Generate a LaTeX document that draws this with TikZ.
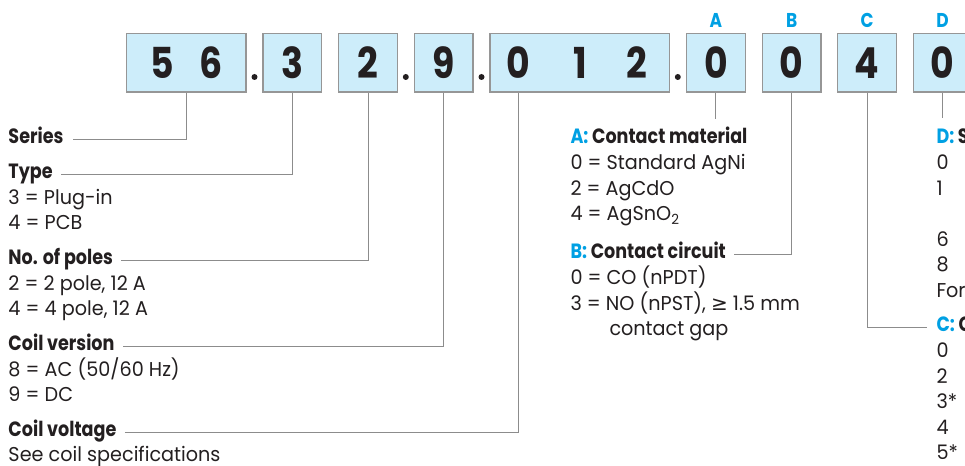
\documentclass[tikz,border=0pt]{standalone}
\usepackage{fontspec}
\setmainfont{Poppins}[FakeStretch=0.96]
\newfontfamily\headfont{Poppins}[FakeStretch=0.85]
\newfontfamily\symfont{DejaVu Sans}
\definecolor{boxfill}{RGB}{205,237,250}
\definecolor{boxline}{RGB}{150,150,150}
\definecolor{leadgray}{RGB}{140,140,140}
\definecolor{keycyan}{RGB}{0,160,227}
\definecolor{inkgray}{RGB}{35,31,32}

\tikzset{every picture/.style={line width=0.75pt}}
\tikzset{
  codebox/.style={draw=boxline, fill=boxfill, line width=1pt, inner sep=0pt, minimum height=44pt, minimum width=44pt, text=inkgray, font=\headfont\fontsize{32}{32}\selectfont\bfseries},
  codedigit/.style={inner sep=0pt, text=inkgray, font=\headfont\fontsize{32}{32}\selectfont\bfseries},
  keyletter/.style={inner sep=0pt, text=keycyan, font=\headfont\fontsize{15}{15}\selectfont\bfseries},
  headtext/.style={anchor=base west, inner sep=0pt, text height=7pt, text depth=0pt, text=inkgray, font=\headfont\fontsize{15.5}{15.5}\selectfont\bfseries},
  itemtext/.style={anchor=base west, inner sep=0pt, text=inkgray, font=\fontsize{15}{15}\selectfont},
  lead/.style={draw=leadgray, line width=0.75pt},
  sepdot/.style={circle, fill=inkgray, inner sep=0pt, minimum size=4.5pt}
}

\begin{document}
\begin{tikzpicture}[x=0.75pt,y=0.75pt,yscale=-1,xscale=1]
\useasboundingbox (0,0) rectangle (965,466);
\clip (0,0) rectangle (965,466);

%Shape: Rectangle [code boxes]
\node[codebox, minimum width=89.5pt] (bSeries) at (186.35,62.65) {};
\node[codebox] (bType) at (292.35,62.65) {3};
\node[codebox] (bPoles) at (368,62.65) {2};
\node[codebox] (bVersion) at (443.65,62.65) {9};
\node[codebox, minimum width=134.5pt] (bVoltage) at (579.65,62.65) {};
\node[codebox] (bA) at (715.85,62.65) {0};
\node[codebox] (bB) at (791.65,62.65) {0};
\node[codebox] (bC) at (867,62.65) {4};
\node[codebox] (bD) at (942.65,62.65) {0};

% Text Node
\node[codedigit] (dFive) at (162,62.65) {5};
\node[codedigit] (dSix) at (211,62.65) {6};
\node[codedigit] (dZero) at (518,62.65) {0};
\node[codedigit] (dOne) at (580,62.65) {1};
\node[codedigit] (dTwo) at (637,62.65) {2};

%Shape: Circle [separator dots]
\node[sepdot] (sOne) at (254.5,77) {};
\node[sepdot] (sTwo) at (405.8,77) {};
\node[sepdot] (sThree) at (481.5,77) {};
\node[sepdot] (sFour) at (677.8,77) {};

% Text Node
\node[keyletter] (kA) at (715.85,20) {A};
\node[keyletter] (kB) at (791.65,20) {B};
\node[keyletter] (kC) at (867,20) {C};
\node[keyletter] (kD) at (942.65,20) {D};

% Text Node
\node[headtext] (hSeries) at (8,144) {Series};
\node[headtext] (hType) at (8,179) {Type};
\node[itemtext] (iPlug) at (8,204.3) {3 = Plug-in};
\node[itemtext] (iPcb) at (8,229.6) {4 = PCB};
\node[headtext] (hPoles) at (8,265) {No. of poles};
\node[itemtext] (iTwoPole) at (8,290.3) {2 = 2 pole, 12 A};
\node[itemtext] (iFourPole) at (8,315.6) {4 = 4 pole, 12 A};
\node[headtext] (hVersion) at (8,351) {Coil version};
\node[itemtext] (iAc) at (8,376.3) {8 = AC (50/60 Hz)};
\node[itemtext] (iDc) at (8,401.6) {9 = DC};
\node[headtext] (hVoltage) at (8,437) {Coil voltage};
\node[itemtext] (iSpec) at (8,461.5) {See coil specifications};

% Text Node
\node[headtext] (hA) at (570,144) {\textcolor{keycyan}{A:} Contact material};
\node[itemtext] (iAgNi) at (570,169.6) {0 = Standard AgNi};
\node[itemtext] (iAgCdO) at (570,195.2) {2 = AgCdO};
\node[itemtext] (iAgSnO) at (570,220.8) {4 = AgSnO\textsubscript{2}};
\node[headtext] (hB) at (570,259) {\textcolor{keycyan}{B:} Contact circuit};
\node[itemtext] (iCo) at (570,284.6) {0 = CO (nPDT)};
\node[itemtext] (iNo) at (570,310.2) {3 = NO (nPST), {\symfont ≥} 1.5 mm};
\node[itemtext] (iGap) at (609,335.8) {contact gap};

% Text Node
\node[headtext] (hD) at (936,144) {\textcolor{keycyan}{D:} S};
\node[itemtext] (iDZero) at (936,169.6) {0};
\node[itemtext] (iDOne) at (936,195.2) {1};
\node[itemtext] (iDSix) at (936,246.4) {6};
\node[itemtext] (iDEight) at (936,272) {8};
\node[itemtext] (iDFor) at (936,297.6) {For};
\node[headtext] (hC) at (936,332) {\textcolor{keycyan}{C:} C};
\node[itemtext] (iCZero) at (936,357.6) {0};
\node[itemtext] (iCTwo) at (936,383.2) {2};
\node[itemtext] (iCThree) at (936,408.8) {3*};
\node[itemtext] (iCFour) at (936,434.4) {4};
\node[itemtext] (iCFive) at (936,460) {5*};

%Straight Lines [leaders]
\coordinate (tipA) at (715.85,119);
\coordinate (tipD) at (942.65,118);
\draw[lead] ([xshift=7pt]hSeries.east) -| (bSeries.south);
\draw[lead] ([xshift=6pt]hType.east) -| (bType.south);
\draw[lead] ([xshift=6pt]hPoles.east) -| (bPoles.south);
\draw[lead] ([xshift=6pt]hVersion.east) -| (bVersion.south);
\draw[lead] ([xshift=6pt]hVoltage.east) -| (dZero |- bVoltage.south);
\draw[lead] (bA.south) -- (tipA);
\draw[lead] ([xshift=6pt]hB.east) -| (bB.south);
\draw[lead] (bC.south) |- ([xshift=-7pt]hC.west);
\draw[lead] (bD.south) -- (tipD);

\end{tikzpicture}
\end{document}
